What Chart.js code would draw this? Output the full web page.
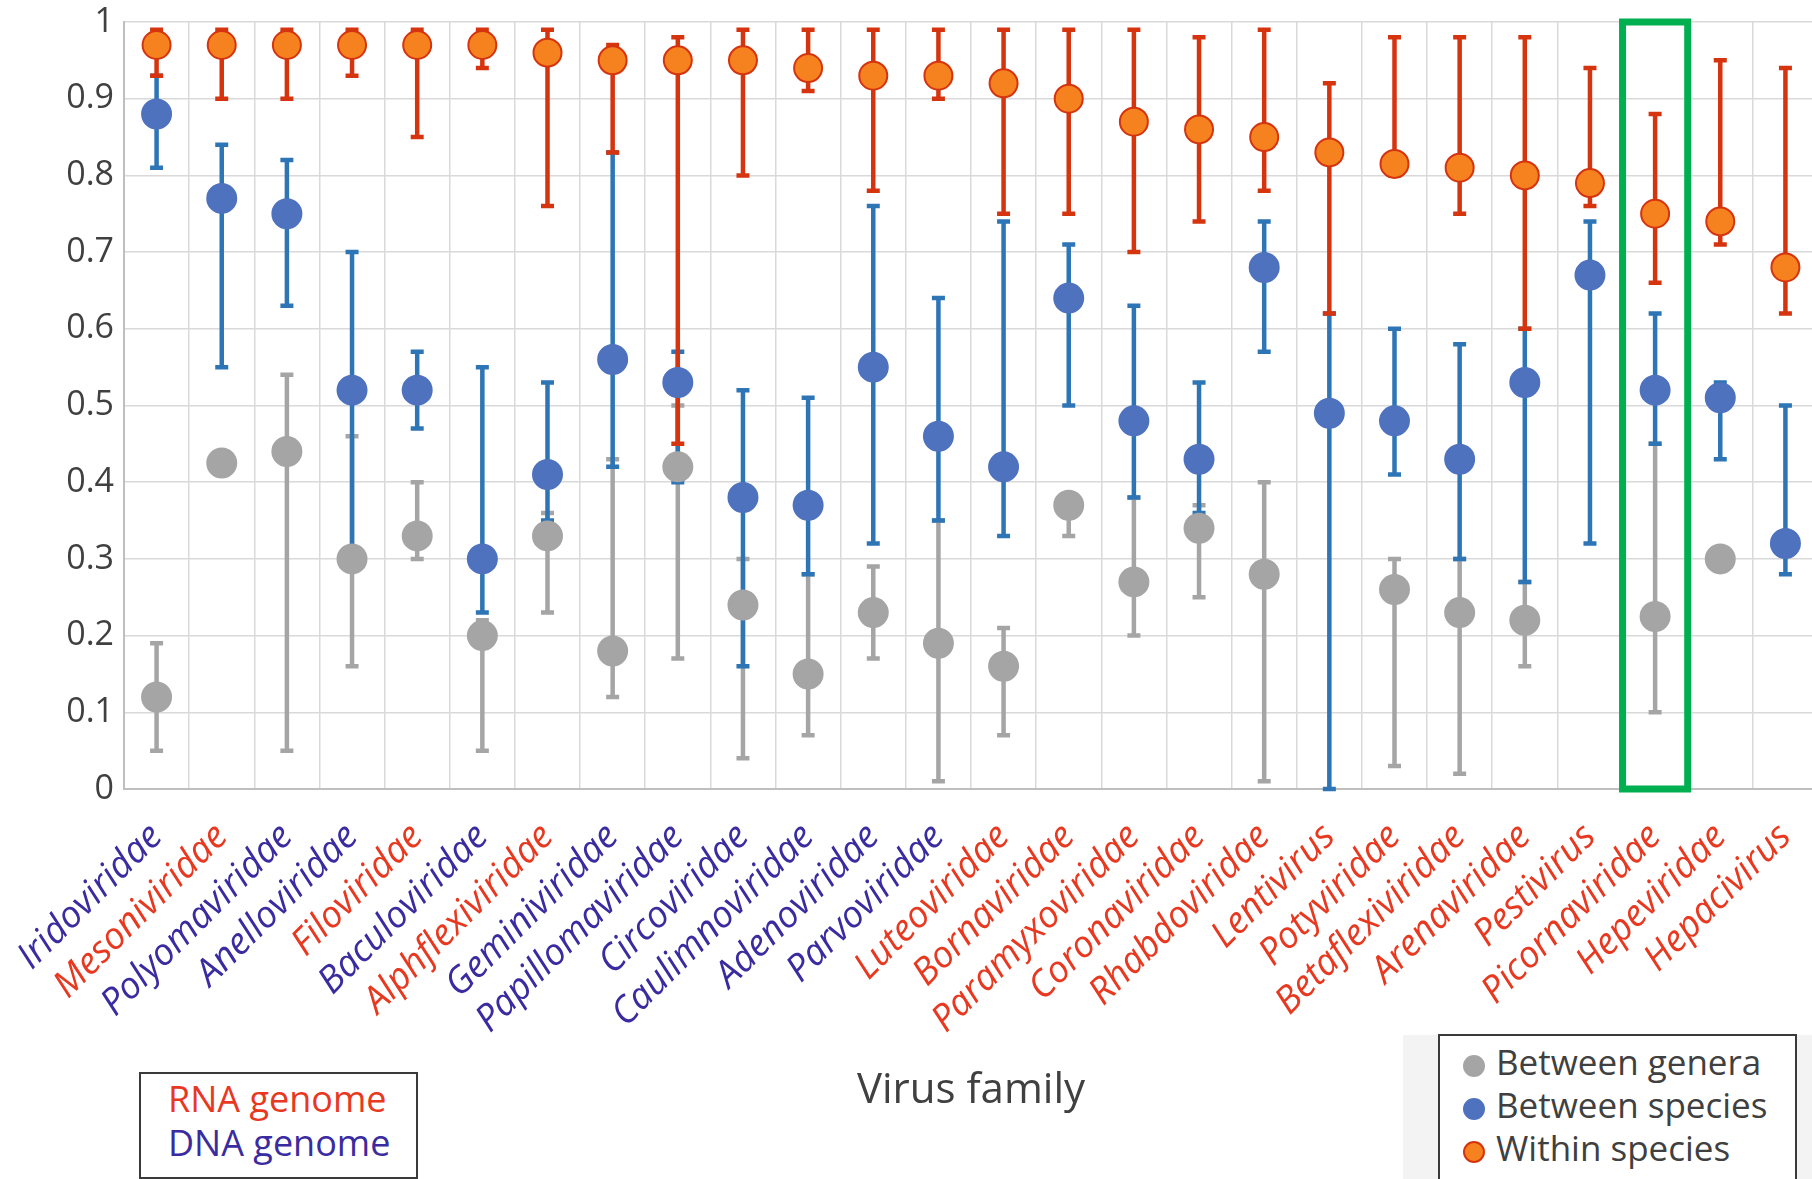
<!DOCTYPE html>
<html>
<head>
<meta charset="utf-8">
<title>Virus family similarity</title>
<script src="https://cdn.jsdelivr.net/npm/chart.js@4.4.1/dist/chart.umd.min.js"></script>
<style>
    html, body { margin: 0; padding: 0; background: #fff; overflow: hidden; }
    #wrap { position: relative; width: 1812px; height: 1179px; overflow: hidden; font-family: 'Open Sans', sans-serif; }
    #chart { position: absolute; left: 0; top: 0; }
    .box { position: absolute; background: #fff; border: 2px solid #3a3a3a; box-sizing: border-box; }
    .txt { position: absolute; white-space: nowrap; line-height: 42px; }
    .dot { position: absolute; width: 22px; height: 22px; border-radius: 50%; box-sizing: border-box; }
</style>
</head>
<body>
<div id="wrap">
    <canvas id="chart" width="1818" height="1179"></canvas>
    <div id="genomeLegend" class="box" style="left:139px; top:1072px; width:279px; height:107px;">
        <div class="txt" style="left:27px; top:4px; font-size:36px; color:#E8381F;">RNA genome</div>
        <div class="txt" style="left:27px; top:48px; font-size:36px; color:#3A2CA0;">DNA genome</div>
    </div>
    <div style="position:absolute; left:1403px; top:1035px; width:409px; height:144px; background:#f3f3f3;"></div>
    <div id="seriesLegend" class="box" style="left:1438px; top:1034px; width:359px; height:150px;"></div>
</div>
<script>
// categories
const families = [
    'Iridoviridae', 'Mesoniviridae', 'Polyomaviridae', 'Anelloviridae', 'Filoviridae',
    'Baculoviridae', 'Alphflexiviridae', 'Geminiviridae', 'Papillomaviridae', 'Circoviridae',
    'Caulimnoviridae', 'Adenoviridae', 'Parvoviridae', 'Luteoviridae', 'Bornaviridae',
    'Paramyxoviridae', 'Coronaviridae', 'Rhabdoviridae', 'Lentivirus', 'Potyviridae',
    'Betaflexiviridae', 'Arenaviridae', 'Pestivirus', 'Picornaviridae', 'Hepeviridae',
    'Hepacivirus'
];
const genome = [
    'DNA', 'RNA', 'DNA', 'DNA', 'RNA', 'DNA', 'RNA', 'DNA', 'DNA', 'DNA',
    'DNA', 'DNA', 'DNA', 'RNA', 'RNA', 'RNA', 'RNA', 'RNA', 'RNA', 'RNA',
    'RNA', 'RNA', 'RNA', 'RNA', 'RNA', 'RNA'
];
const highlighted = 'Picornaviridae';

// Within species (orange)
const withinSpecies = [0.97, 0.97, 0.97, 0.97, 0.97, 0.97, 0.96, 0.95, 0.95, 0.95, 0.94, 0.93, 0.93,
    0.92, 0.90, 0.87, 0.86, 0.85, 0.83, 0.815, 0.81, 0.80, 0.79, 0.75, 0.74, 0.68];
const withinLow = [0.93, 0.90, 0.90, 0.93, 0.85, 0.94, 0.76, 0.83, 0.45, 0.80, 0.91, 0.78, 0.90,
    0.75, 0.75, 0.70, 0.74, 0.78, 0.62, 0.80, 0.75, 0.60, 0.76, 0.66, 0.71, 0.62];
const withinHigh = [0.99, 0.99, 0.99, 0.99, 0.99, 0.99, 0.99, 0.97, 0.98, 0.99, 0.99, 0.99, 0.99,
    0.99, 0.99, 0.99, 0.98, 0.99, 0.92, 0.98, 0.98, 0.98, 0.94, 0.88, 0.95, 0.94];

// Between species (blue)
const betweenSpecies = [0.88, 0.77, 0.75, 0.52, 0.52, 0.30, 0.41, 0.56, 0.53, 0.38, 0.37, 0.55, 0.46,
    0.42, 0.64, 0.48, 0.43, 0.68, 0.49, 0.48, 0.43, 0.53, 0.67, 0.52, 0.51, 0.32];
const speciesLow = [0.81, 0.55, 0.63, 0.31, 0.47, 0.23, 0.35, 0.42, 0.40, 0.16, 0.28, 0.32, 0.35,
    0.33, 0.50, 0.38, 0.36, 0.57, 0.00, 0.41, 0.30, 0.27, 0.32, 0.45, 0.43, 0.28];
const speciesHigh = [0.93, 0.84, 0.82, 0.70, 0.57, 0.55, 0.53, 0.83, 0.57, 0.52, 0.51, 0.76, 0.64,
    0.74, 0.71, 0.63, 0.53, 0.74, 0.62, 0.60, 0.58, 0.60, 0.74, 0.62, 0.53, 0.50];

// Between genera (gray)
const betweenGenera = [0.12, 0.425, 0.44, 0.30, 0.33, 0.20, 0.33, 0.18, 0.42, 0.24, 0.15, 0.23, 0.19,
    0.16, 0.37, 0.27, 0.34, 0.28, null, 0.26, 0.23, 0.22, null, 0.225, 0.30, null];
const generaLow = [0.05, 0.41, 0.05, 0.16, 0.30, 0.05, 0.23, 0.12, 0.17, 0.04, 0.07, 0.17, 0.01,
    0.07, 0.33, 0.20, 0.25, 0.01, null, 0.03, 0.02, 0.16, null, 0.10, null, null];
const generaHigh = [0.19, 0.44, 0.54, 0.46, 0.40, 0.22, 0.36, 0.43, 0.50, 0.30, 0.28, 0.29, 0.35,
    0.21, 0.38, 0.38, 0.37, 0.40, null, 0.30, 0.30, 0.27, null, 0.45, null, null];

const RED_TEXT = '#E8381F';
const BLUE_TEXT = '#3A2CA0';
const AXIS_TEXT = '#404040';

// drawn in this order: gray under blue under red
const errorSeries = [
    { low: generaLow, high: generaHigh, color: '#A5A5A5' },
    { low: speciesLow, high: speciesHigh, color: '#2E75B6' },
    { low: withinLow, high: withinHigh, color: '#D5340F' }
];

const errorBarPlugin = {
    id: 'errorBars',
    beforeDatasetsDraw(chart) {
        const { ctx, scales: { x, y } } = chart;
        ctx.save();
        ctx.lineWidth = 4.5;
        ctx.lineCap = 'butt';
        errorSeries.forEach(s => {
            ctx.strokeStyle = s.color;
            families.forEach((f, i) => {
                if (s.low[i] == null || s.high[i] == null) return;
                const px = x.getPixelForValue(i);
                const yLow = y.getPixelForValue(s.low[i]);
                const yHigh = y.getPixelForValue(s.high[i]);
                ctx.beginPath();
                ctx.moveTo(px, yLow);
                ctx.lineTo(px, yHigh);
                // caps
                ctx.moveTo(px - 6.5, yLow);
                ctx.lineTo(px + 6.5, yLow);
                ctx.moveTo(px - 6.5, yHigh);
                ctx.lineTo(px + 6.5, yHigh);
                ctx.stroke();
            });
        });
        ctx.restore();
    }
};

// green frame round the highlighted family
const highlightPlugin = {
    id: 'highlight',
    afterDatasetsDraw(chart) {
        const { ctx, scales: { x, y } } = chart;
        const i = families.indexOf(highlighted);
        const half = (x.getPixelForValue(1) - x.getPixelForValue(0)) / 2;
        const cx = x.getPixelForValue(i);
        const top = y.getPixelForValue(1);
        const bottom = y.getPixelForValue(0);
        ctx.save();
        ctx.strokeStyle = '#00B050';
        ctx.lineWidth = 7;
        ctx.strokeRect(cx - half, top, half * 2, bottom - top);
        ctx.restore();
    }
};

const pointDefaults = {
    showLine: false,
    pointRadius: 14,
    pointHoverRadius: 14,
    pointBorderWidth: 2
};

const chart = new Chart(document.getElementById('chart'), {
    type: 'line',
    data: {
        labels: families,
        datasets: [
            {
                ...pointDefaults,
                label: 'Within species',
                data: withinSpecies,
                backgroundColor: '#F5821F',
                borderColor: '#D5340F'
            },
            {
                ...pointDefaults,
                label: 'Between species',
                data: betweenSpecies,
                backgroundColor: '#4E72BE',
                borderColor: '#4E72BE',
                pointRadius: 14.5
            },
            {
                ...pointDefaults,
                label: 'Between genera',
                data: betweenGenera,
                backgroundColor: '#A5A5A5',
                borderColor: '#A5A5A5',
                pointRadius: 14.5
            }
        ]
    },
    options: {
        responsive: false,
        devicePixelRatio: 1,
        animation: false,
        events: [],
        layout: { autoPadding: false, padding: { top: 22, left: 0, right: 0, bottom: 0 } },
        plugins: {
            legend: { display: false },
            tooltip: { enabled: false }
        },
        scales: {
            x: {
                type: 'category',
                offset: true,
                grid: { offset: true, color: '#D9D9D9', lineWidth: 1.5, drawTicks: false },
                border: { color: '#BFBFBF', width: 2 },
                ticks: {
                    autoSkip: false,
                    maxRotation: 45,
                    minRotation: 45,
                    padding: 26,
                    font: { family: 'Open Sans', size: 37, style: 'italic' },
                    color: (c) => genome[c.index] === 'RNA' ? RED_TEXT : BLUE_TEXT
                },
                title: {
                    display: true,
                    text: 'Virus family',
                    color: AXIS_TEXT,
                    font: { family: 'Open Sans', size: 42 },
                    padding: { top: 0, bottom: 63 }
                },
                afterFit(scale) {
                    scale.height = 390;
                    scale.paddingLeft = 0;
                    scale.paddingRight = 0;
                }
            },
            y: {
                min: 0,
                max: 1,
                grid: { color: '#D9D9D9', lineWidth: 1.5, drawTicks: false },
                border: { color: '#BFBFBF', width: 2 },
                ticks: {
                    stepSize: 0.1,
                    padding: 10,
                    color: AXIS_TEXT,
                    font: { family: 'Open Sans', size: 34 },
                    callback: (v) => String(Math.round(v * 10) / 10)
                },
                afterFit(scale) {
                    scale.width = 124;
                    scale.paddingTop = 0;
                    scale.paddingBottom = 0;
                }
            }
        }
    },
    plugins: [errorBarPlugin, highlightPlugin]
});

// series legend, built from the datasets (listed bottom-up like the original)
const legendBox = document.getElementById('seriesLegend');
chart.data.datasets.slice().reverse().forEach((ds, k) => {
    const baseline = 40 + k * 43;
    const dot = document.createElement('div');
    dot.className = 'dot';
    dot.style.left = '23px';
    dot.style.top = (baseline - 21) + 'px';
    dot.style.background = ds.backgroundColor;
    dot.style.border = '2px solid ' + ds.borderColor;
    legendBox.appendChild(dot);
    const t = document.createElement('div');
    t.className = 'txt';
    t.textContent = ds.label;
    t.style.left = '56px';
    t.style.top = (baseline - 35) + 'px';
    t.style.fontSize = '35px';
    t.style.color = AXIS_TEXT;
    legendBox.appendChild(t);
});
</script>
</body>
</html>
